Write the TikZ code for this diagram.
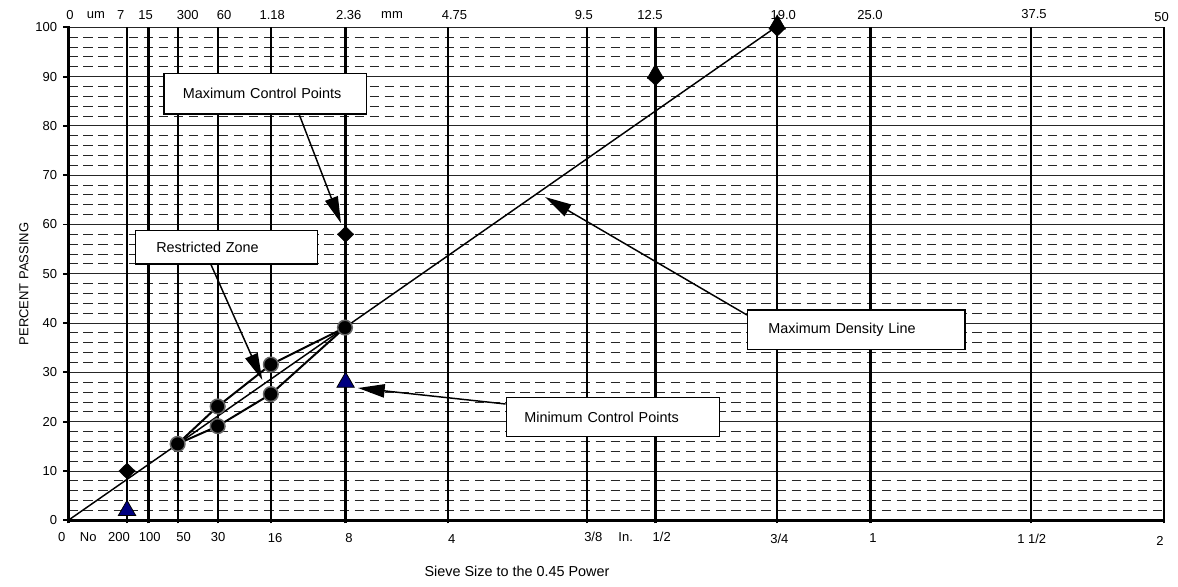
\documentclass[tikz,border=0pt]{standalone}
\usepackage{fontspec}
\setmainfont{Liberation Sans}
\usetikzlibrary{arrows.meta,shapes.geometric,calc}
\newcommand\myLab{\fontsize{9.75}{11}\selectfont}
\newcommand\myBox{\fontsize{10.8}{12}\selectfont}
\definecolor{navyblue}{RGB}{0,0,128}
\tikzset{
  gridsolid/.style={line width=0.7pt, black!85},
  griddash/.style={line width=0.7pt, black!85, dash pattern=on 7pt off 4.3pt},
  sieveline/.style={line width=1.7pt, black},
  axisline/.style={line width=2.2pt, black},
  densline/.style={line width=1.1pt, black},
  rzline/.style={line width=1.5pt, black},
  lab/.style={font=\myLab, inner sep=0pt},
  callout/.style={draw=black, line width=1.1pt, fill=white, font=\myBox, align=left, inner xsep=14.25pt, inner ysep=0pt},
  arr/.style={line width=1.1pt, black, -{Triangle[length=20pt,width=10pt]}},
  rzdot/.style={circle, fill=black, draw=black!60, line width=1.1pt, minimum size=11pt, inner sep=0pt},
  dia/.style={diamond, fill=black, draw=black, line width=0.3pt, minimum width=12.5pt, minimum height=12pt, inner sep=0pt},
  tri/.style={regular polygon, regular polygon sides=3, fill=navyblue, draw=black, line width=0.6pt, minimum size=15pt, inner sep=0pt},
  btri/.style={regular polygon, regular polygon sides=3, fill=black, draw=black, line width=0.5pt, minimum size=14pt, inner sep=0pt}
}
\begin{document}
\begin{tikzpicture}[x=0.75pt,y=0.75pt]
\useasboundingbox (0,0) rectangle (1178,586);
\fill[white] (0,0) rectangle (1178,586);

\begin{scope}[shift={(68.3,65.7)}, xscale=188.43, yscale=4.93]
  % dashed grid
  \foreach \a in {0,10,...,90}{
    \foreach \b in {2,4,6,8}{
      \draw[griddash] (0,{\a+\b}) -- (5.81492,{\a+\b});
    }
  }
  % solid grid
  \foreach \p in {10,20,...,100}{
    \draw[gridsolid] (0,\p) -- (5.81492,\p);
  }
  % sieve lines
  \foreach \s in {0.31172,0.42587,0.58170,0.79465,1.07732,1.47168,2.01603,2.75409,3.11601,3.76223,4.25669,5.10863,5.81492}{
    \draw[sieveline] (\s,-0.6) -- (\s,100);
  }
  % axes
  \draw[axisline] (0,-0.6) -- (0,100.3);
  \draw[axisline] (-0.005,0) -- (5.82,0);
  \foreach \p in {0,10,...,100}{
    \draw[line width=1.4pt] (-0.027,\p) -- (0,\p);
    \node[lab, anchor=east] (ylab\p) at (-0.058,\p) {\p};
  }

  % maximum density line
  \coordinate (orig) at (0,0);
  \coordinate (m19) at (3.76223,100);
  \draw[densline] (orig) -- (m19);

  % restricted zone
  \coordinate (c03) at (0.58170,15.5);
  \coordinate (c06u) at (0.79465,23.1);
  \coordinate (c06l) at (0.79465,19.1);
  \coordinate (c118u) at (1.07732,31.6);
  \coordinate (c118l) at (1.07732,25.6);
  \coordinate (c236) at (1.47168,39.1);
  \draw[rzline] (c03) -- (c06u) -- (c118u) -- (c236);
  \draw[rzline] (c03) -- (c06l) -- (c118l) -- (c236);
  \foreach \c in {c03,c06u,c06l,c118u,c118l,c236}{
    \node[rzdot] (dot\c) at (\c) {};
  }

  % control points
  \node[dia] (dmax075) at (0.31172,10) {};
  \node[tri] (tmin075) at (0.31172,2) {};
  \node[dia] (dmax236) at (1.47168,58) {};
  \node[tri] (tmin236) at (1.47168,28) {};
  \node[dia] (dmax125) at (3.11601,89.8) {};
  \node[btri] (tmax125) at (3.11601,90.6) {};
  \node[dia] (dmax19) at (3.76223,99.8) {};
  \node[btri] (tmin19) at (3.76223,100.6) {};
\end{scope}

% top labels
\node[lab] (tl1) at (70,571) {0};
\node[lab] (tl2) at (96,571) {um};
\node[lab] (tl3) at (120.7,571) {7};
\node[lab] (tl4) at (145.7,571) {15};
\node[lab] (tl5) at (187.7,571) {300};
\node[lab] (tl6) at (224,571) {60};
\node[lab] (tl7) at (272.3,571) {1.18};
\node[lab] (tl8) at (348.7,571) {2.36};
\node[lab] (tl9) at (392,571) {mm};
\node[lab] (tl10) at (454.5,571) {4.75};
\node[lab] (tl11) at (583.8,571) {9.5};
\node[lab] (tl12) at (650,571) {12.5};
\node[lab] (tl13) at (783.3,571) {19.0};
\node[lab] (tl14) at (870,571) {25.0};
\node[lab] (tl15) at (1034,571.5) {37.5};
\node[lab] (tl16) at (1161.7,569.3) {50};

% bottom labels
\node[lab] (bl1) at (61.7,48.7) {0};
\node[lab] (bl2) at (88.3,48.7) {No};
\node[lab] (bl3) at (119,48.7) {200};
\node[lab] (bl4) at (149.7,48.7) {100};
\node[lab] (bl5) at (183.7,48.7) {50};
\node[lab] (bl6) at (218,48.7) {30};
\node[lab] (bl7) at (275,47.7) {16};
\node[lab] (bl8) at (349,47.7) {8};
\node[lab] (bl9) at (451.7,46.7) {4};
\node[lab] (bl10) at (593.3,48.7) {3/8};
\node[lab] (bl11) at (625.7,49.3) {In.};
\node[lab] (bl12) at (661.7,49.3) {1/2};
\node[lab] (bl13) at (779.3,46.7) {3/4};
\node[lab] (bl14) at (873,48.3) {1};
\node[lab] (bl15) at (1031.7,47.3) {1 1/2};
\node[lab] (bl16) at (1160,45) {2};

% axis titles
\node[lab, rotate=90] (ytitle) at (24,302) {PERCENT PASSING};
\node[lab, font=\myBox] (xtitle) at (517,14.3) {Sieve Size to the 0.45 Power};

% callout boxes
\node[callout, text width=123.5pt, minimum height=30.5pt] (mcp) at (265.3,492.35) {Maximum Control Points};
\node[callout, text width=105.3pt, minimum height=25pt, inner xsep=15.5pt] (rz) at (226.5,338.65) {Restricted Zone};
\node[callout, text width=132pt, minimum height=29.5pt, inner xsep=15.5pt] (mdl) at (856.35,256.35) {Maximum Density Line};
\node[callout, text width=133pt, minimum height=29.5pt, inner xsep=13.5pt] (mincp) at (613,169) {Minimum Control Points};

% arrows
\coordinate (mcptip) at (341,362.7);
\coordinate (rztip) at (262.3,206);
\coordinate (mdltip) at (545,389);
\coordinate (mincptip) at (358,198);
\draw[arr] ([xshift=25.5pt]mcp.south) -- (mcptip);
\draw[arr] ([xshift=-11.6pt]rz.south) -- (rztip);
\draw[arr] ([yshift=11pt]mdl.west) -- (mdltip);
\draw[arr] ([yshift=9.75pt]mincp.west) -- (mincptip);
\end{tikzpicture}
\end{document}
